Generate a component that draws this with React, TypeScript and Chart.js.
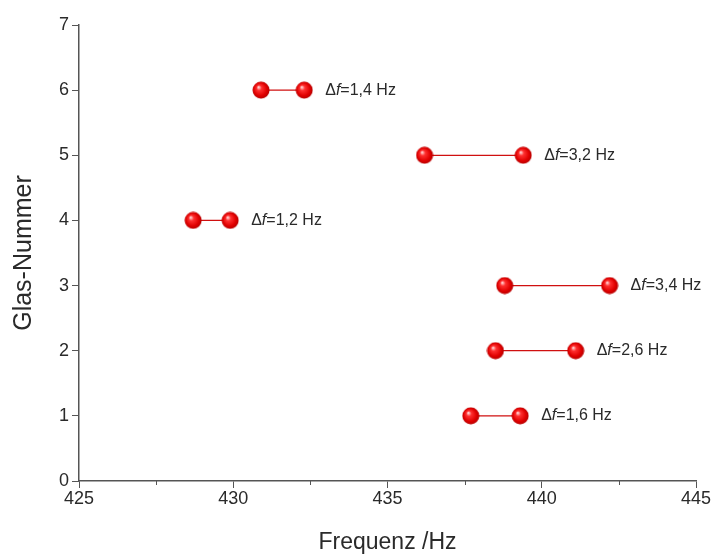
import React, { useEffect, useRef } from "react";
import { Chart, registerables } from "chart.js";

Chart.register(...registerables);

const glassNumbers = [1, 2, 3, 4, 5, 6];
const freqLow = [437.7, 438.5, 438.8, 428.7, 436.2, 430.9];
const freqHigh = [439.3, 441.1, 442.2, 429.9, 439.4, 432.3];
const deltaLabels = ["1,6", "2,6", "3,4", "1,2", "3,2", "1,4"];
const xMinorTicks = [427.5, 432.5, 437.5, 442.5];

const FONT = "'Liberation Sans', Arial, sans-serif";
const AXIS_COLOR = "#555";
const TEXT_COLOR = "#2a2a2a";

function makeSphere(): HTMLCanvasElement {
  const c = document.createElement("canvas");
  const s = 18;
  c.width = s;
  c.height = s;
  const ctx = c.getContext("2d")!;
  const g = ctx.createRadialGradient(6.5, 6, 0.5, 9, 9, 9);
  g.addColorStop(0, "#ffd0d0");
  g.addColorStop(0.25, "#ff3030");
  g.addColorStop(0.7, "#e00000");
  g.addColorStop(1, "#b00000");
  ctx.fillStyle = g;
  ctx.beginPath();
  ctx.arc(9, 9, 8.5, 0, Math.PI * 2);
  ctx.fill();
  return c;
}

export default function App() {
  const ref = useRef<HTMLCanvasElement>(null);

  useEffect(() => {
    document.body.style.margin = "0";
    const sphere = makeSphere();

    const datasets = glassNumbers.map((g, i) => ({
      label: "Glas " + g,
      data: [
        { x: freqLow[i], y: g },
        { x: freqHigh[i], y: g },
      ],
      showLine: true,
      borderColor: "#d01010",
      borderWidth: 1.2,
      pointStyle: sphere as any,
      pointRadius: 9,
    }));

    const annot = {
      id: "annot",
      afterDatasetsDraw(chart: any) {
        const ctx = chart.ctx;
        const xs = chart.scales.x;
        const ys = chart.scales.y;
        ctx.save();
        ctx.fillStyle = TEXT_COLOR;
        ctx.textBaseline = "middle";
        const size = 16;
        glassNumbers.forEach((g, i) => {
          let px = xs.getPixelForValue(freqHigh[i]) + 21;
          const py = ys.getPixelForValue(g);
          ctx.font = `${size}px ${FONT}`;
          ctx.fillText("\u0394", px, py);
          px += ctx.measureText("\u0394").width;
          ctx.font = `italic ${size}px ${FONT}`;
          ctx.fillText("f", px, py);
          px += ctx.measureText("f").width;
          ctx.font = `${size}px ${FONT}`;
          ctx.fillText("=" + deltaLabels[i] + " Hz", px, py);
        });
        // minor ticks on x axis
        ctx.strokeStyle = AXIS_COLOR;
        ctx.lineWidth = 1;
        const yb = ys.getPixelForValue(0);
        xMinorTicks.forEach((v) => {
          const x = Math.round(xs.getPixelForValue(v)) + 0.5;
          ctx.beginPath();
          ctx.moveTo(x, yb);
          ctx.lineTo(x, yb + 4);
          ctx.stroke();
        });
        ctx.restore();
      },
    };

    const chart = new Chart(ref.current!, {
      type: "scatter",
      data: { datasets },
      options: {
        animation: false,
        responsive: false,
        layout: { padding: { left: 0, top: 25, right: 19, bottom: 0 } },
        plugins: { legend: { display: false }, tooltip: { enabled: false } },
        scales: {
          x: {
            type: "linear",
            min: 425,
            max: 445,
            ticks: {
              stepSize: 5,
              color: TEXT_COLOR,
              font: { family: FONT, size: 18 },
              padding: 0,
              maxRotation: 0,
            },
            grid: {
              drawOnChartArea: false,
              drawTicks: true,
              tickLength: 7,
              color: AXIS_COLOR,
            },
            border: { display: true, color: AXIS_COLOR, width: 1.5 },
            title: {
              display: true,
              text: "Frequenz /Hz",
              color: TEXT_COLOR,
              font: { family: FONT, size: 23 },
              padding: { top: 0, bottom: 2 },
            },
            afterFit(scale: any) {
              scale.height = 77;
            },
          },
          y: {
            type: "linear",
            min: 0,
            max: 7,
            ticks: {
              stepSize: 1,
              color: TEXT_COLOR,
              font: { family: FONT, size: 18 },
              padding: 3,
            },
            grid: {
              drawOnChartArea: false,
              drawTicks: true,
              tickLength: 7,
              color: AXIS_COLOR,
            },
            border: { display: true, color: AXIS_COLOR, width: 1.5 },
            title: {
              display: true,
              text: "Glas-Nummer",
              color: TEXT_COLOR,
              font: { family: FONT, size: 25 },
              padding: { top: 9, bottom: 0 },
            },
            afterFit(scale: any) {
              scale.width = 79;
            },
          },
        },
      },
      plugins: [annot],
    });
    return () => chart.destroy();
  }, []);

  return <canvas ref={ref} width={715} height={558} style={{ display: "block" }} />;
}
